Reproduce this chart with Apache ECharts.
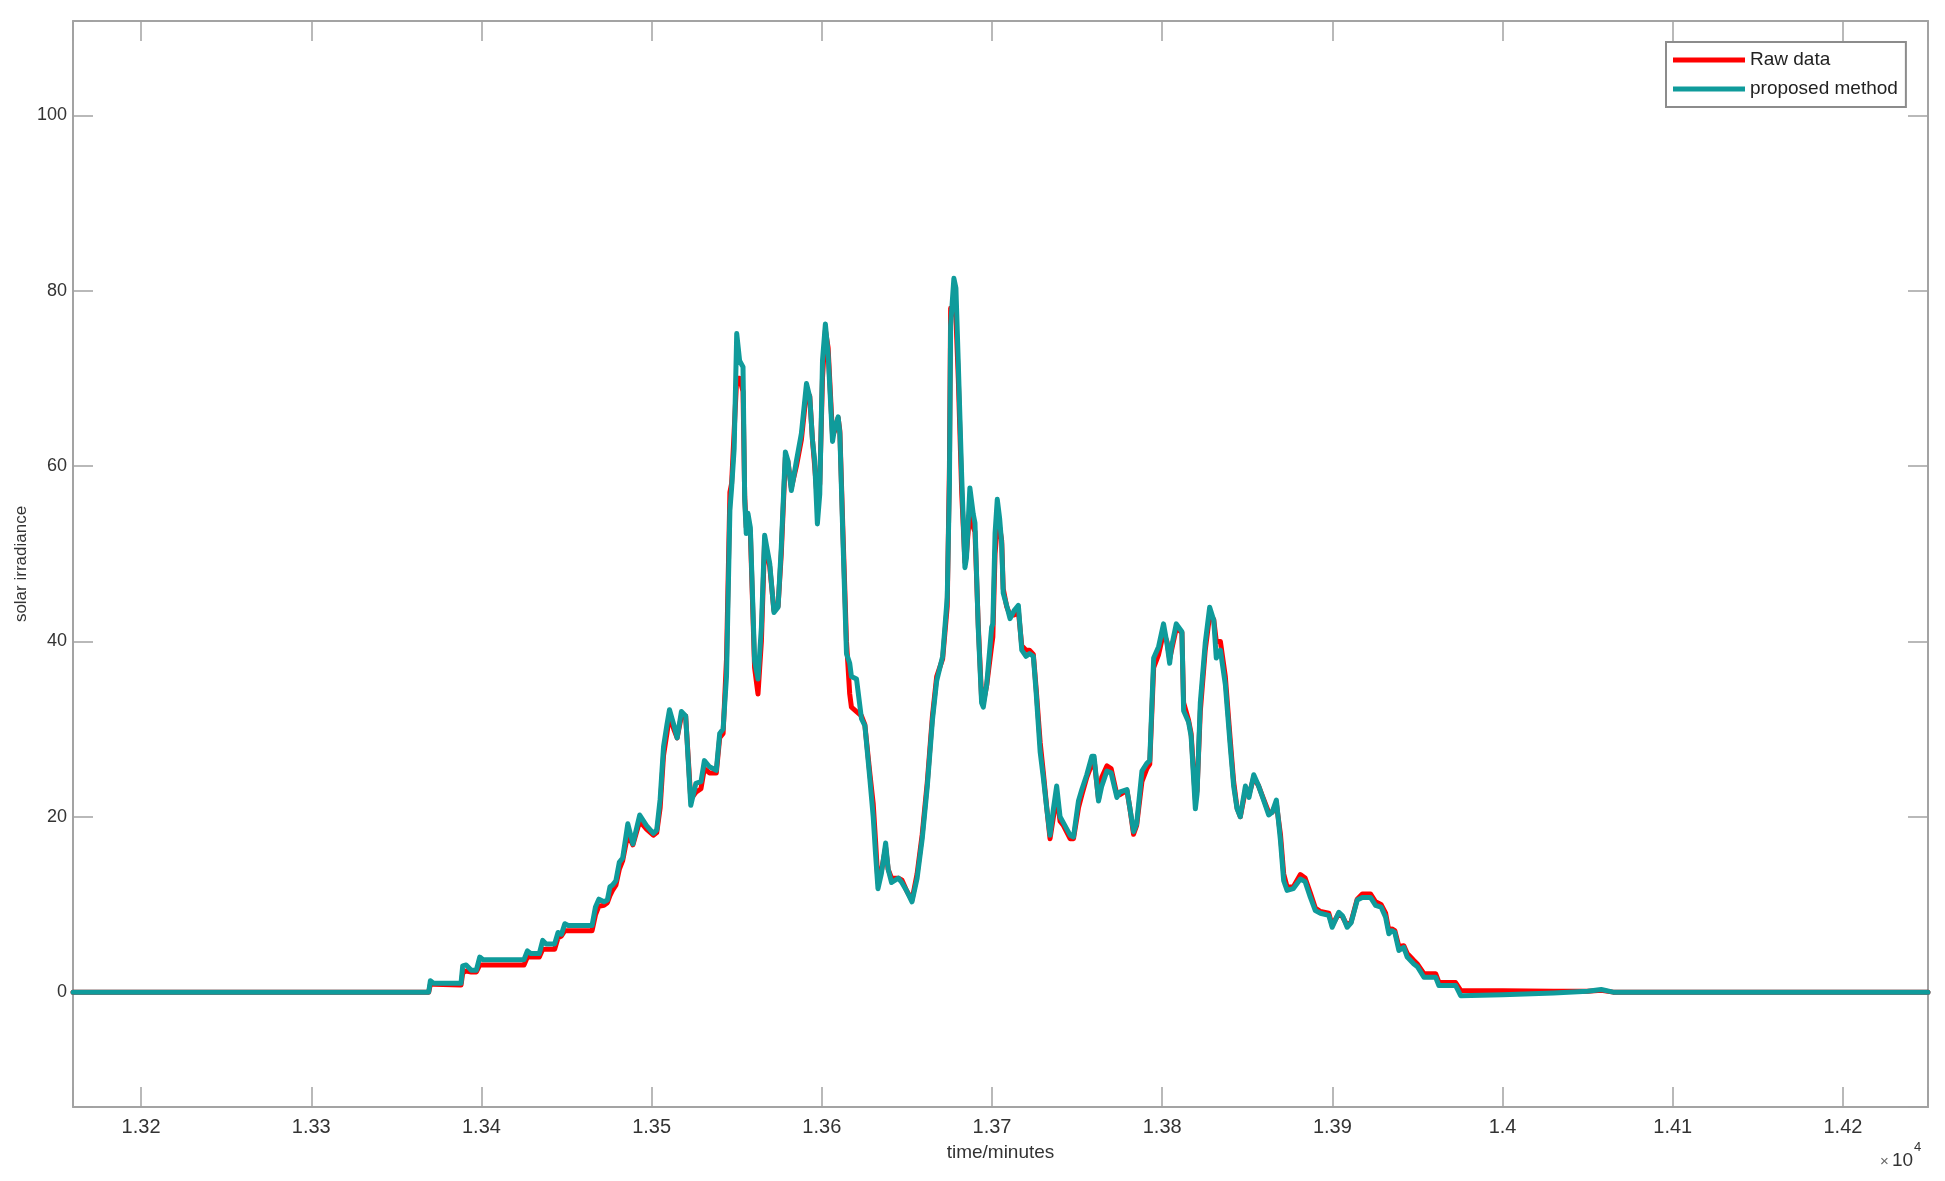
<!DOCTYPE html>
<html>
<head>
<meta charset="utf-8">
<title>solar irradiance</title>
<script src="https://cdn.jsdelivr.net/npm/echarts@6/dist/echarts.min.js"></script>
<style>
    html, body { margin: 0; padding: 0; background: #fff; }
    #chart { width: 1945px; height: 1181px; }
</style>
</head>
<body>
<div id="chart"></div>
<script>
    // time in minutes (axis shows it as x10^4)
    const timeMin = [
        13160, 13369, 13370, 13372, 13388, 13389, 13391, 13394, 13397, 13399,
        13401, 13425, 13427, 13429, 13434, 13436, 13438, 13443, 13445, 13447,
        13449, 13451, 13465, 13467, 13469, 13472, 13474, 13475.5, 13477, 13479,
        13481, 13483, 13486, 13489, 13493, 13497, 13501, 13503, 13505, 13507,
        13509, 13510.5, 13513, 13515, 13517.5, 13520, 13523, 13526, 13529, 13531,
        13534, 13538, 13540, 13542, 13544, 13546, 13547, 13548.5, 13550, 13551.7,
        13553.7, 13554.7, 13555.6, 13556.6, 13558, 13560.5, 13562.5, 13564.5, 13566.4, 13569.4,
        13571.9, 13574.3, 13576.2, 13578.6, 13580.1, 13582.1, 13585.1, 13588, 13591, 13592.9,
        13594.5, 13595.8, 13597.4, 13598.8, 13600.4, 13602.1, 13603.7, 13606.3, 13607.6, 13609.6,
        13610.6, 13612.5, 13614.5, 13616.4, 13617.4, 13620.4, 13623.3, 13625.3, 13628.2, 13630.2,
        13631.5, 13633, 13635, 13637.5, 13639, 13641, 13645, 13647, 13650, 13653,
        13656, 13659, 13662, 13665, 13667.5, 13671, 13673.7, 13675, 13675.7, 13677.6,
        13678.8, 13680.2, 13682.2, 13684.1, 13685, 13687, 13689, 13690, 13691.9, 13693.9,
        13694.9, 13696.9, 13699.8, 13700.5, 13701.8, 13703.1, 13704.5, 13705.7, 13706.6, 13708.6,
        13710.6, 13713, 13715.5, 13717.5, 13720, 13722, 13724.3, 13726, 13728.3, 13730.2,
        13732.2, 13734.1, 13736.1, 13738, 13740, 13742, 13745.9, 13747.9, 13750.8, 13752.8,
        13755.7, 13758.7, 13760, 13762.6, 13764.5, 13767.5, 13770, 13773.4, 13775, 13779.3,
        13781, 13783.2, 13785, 13788.1, 13791, 13792.7, 13795, 13797.9, 13800.8, 13802.8,
        13804.4, 13805.5, 13808.3, 13811.6, 13812.6, 13815.5, 13817, 13819.5, 13820.5, 13822.4,
        13825.3, 13827.9, 13830.3, 13831.8, 13834.2, 13837.1, 13840.1, 13842, 13844, 13845.9,
        13848.9, 13851, 13853.8, 13856.7, 13859.6, 13862.6, 13864.6, 13867.1, 13869.5, 13871.4,
        13873.4, 13877, 13881.2, 13884, 13887.1, 13890, 13893, 13897.9, 13899.9, 13903.8,
        13906, 13908.7, 13911, 13914.6, 13917.6, 13922.4, 13925.4, 13928.6, 13931.3, 13933.2,
        13935, 13936.7, 13939.1, 13942, 13944, 13947.9, 13950, 13953.8, 13960.7, 13962.6,
        13972.4, 13975.4, 14000, 14030, 14050, 14058, 14065, 14250
    ];

    const rawData = [
        0, 0, 0.9, 0.9, 0.8, 2.2, 2.4, 2.3, 2.3, 3.1,
        3.1, 3.1, 4.0, 4.0, 4.0, 4.9, 4.9, 4.9, 6.2, 6.4,
        7.0, 7.0, 7.0, 8.8, 9.8, 9.9, 10.2, 11.0, 11.6, 12.2,
        14.0, 15.0, 18.0, 16.8, 19.5, 18.6, 17.9, 18.2, 21.0, 27.0,
        29.5, 31.5, 30.0, 29.0, 31.5, 31.5, 22.0, 22.8, 23.2, 25.5,
        25.0, 25.0, 29.0, 29.5, 38.0, 57.0, 58.0, 64.0, 70.0, 70.0,
        68.5, 56.5, 53.0, 54.0, 52.5, 37.0, 34.0, 40.0, 51.5, 48.5,
        43.5, 44.0, 50.0, 61.0, 60.5, 57.5, 60.0, 63.0, 68.5, 68.0,
        63.0, 60.0, 56.0, 58.0, 70.0, 75.5, 73.5, 63.5, 64.0, 65.5,
        64.0, 52.0, 40.0, 34.0, 32.5, 32.0, 31.5, 30.5, 25.0, 21.5,
        17.5, 12.5, 13.8, 16.5, 14.0, 13.0, 13.0, 12.8, 11.5, 10.5,
        13.5, 18.0, 24.0, 31.5, 36.0, 38.0, 44.0, 60.0, 78.0, 78.0,
        77.0, 70.0, 57.0, 49.0, 50.0, 55.0, 53.0, 52.5, 42.0, 33.5,
        33.0, 35.0, 39.5, 40.5, 50.0, 53.0, 53.0, 51.5, 46.0, 44.0,
        43.0, 43.0, 43.5, 39.5, 39.0, 39.0, 38.5, 34.5, 28.5, 25.0,
        21.0, 17.5, 20.0, 22.5, 19.5, 19.0, 17.5, 17.5, 21.0, 22.5,
        24.5, 26.0, 26.5, 22.0, 24.5, 25.8, 25.5, 22.5, 22.5, 23.0,
        21.0, 18.0, 19.0, 24.0, 25.5, 26.0, 37.0, 38.5, 41.0, 40.0,
        38.0, 39.0, 41.5, 41.0, 33.0, 31.0, 29.5, 22.0, 23.0, 32.0,
        39.0, 43.0, 42.5, 40.0, 40.0, 36.0, 28.5, 24.0, 21.0, 20.0,
        23.0, 22.5, 24.5, 23.5, 22.0, 20.5, 20.5, 21.5, 18.0, 13.5,
        12.0, 12.0, 13.4, 13.0, 11.3, 9.6, 9.2, 9.0, 7.6, 9.0,
        8.6, 7.6, 8.0, 10.6, 11.2, 11.2, 10.3, 10.0, 9.0, 7.0,
        7.2, 7.0, 5.2, 5.3, 4.4, 3.6, 3.2, 2.1, 2.1, 1.1,
        1.1, 0.2, 0.15, 0.1, 0.1, 0.2, 0, 0
    ];

    const proposed = [
        0, 0, 1.3, 1.0, 1.0, 3.0, 3.1, 2.5, 2.5, 4.0,
        3.7, 3.7, 4.7, 4.4, 4.4, 5.9, 5.5, 5.5, 6.8, 6.6,
        7.8, 7.6, 7.6, 9.7, 10.6, 10.3, 10.5, 12.0, 12.2, 12.7,
        14.8, 15.3, 19.2, 16.9, 20.2, 19.0, 18.1, 18.5, 22.0, 28.0,
        30.5, 32.2, 30.5, 29.0, 32.0, 31.5, 21.3, 23.8, 24.0, 26.4,
        25.7, 25.3, 29.5, 30.0, 36.0, 55.0, 57.5, 62.0, 75.1, 72.0,
        71.3, 56.1, 52.3, 54.6, 53.0, 37.8, 35.7, 41.6, 52.1, 48.9,
        43.3, 43.9, 50.8, 61.6, 60.6, 57.2, 60.6, 63.7, 69.4, 67.9,
        63.0, 60.6, 53.4, 56.8, 72.0, 76.2, 72.8, 62.8, 64.4, 65.6,
        63.7, 51.1, 38.6, 37.5, 36.0, 35.7, 31.2, 30.4, 24.4, 20.0,
        16.0, 11.8, 13.5, 17.0, 14.0, 12.5, 13.0, 12.5, 11.5, 10.3,
        13.0, 17.5, 23.5, 31.0, 35.5, 38.3, 45.0, 58.0, 76.0, 81.4,
        80.3, 71.7, 58.8, 48.4, 49.5, 57.5, 54.5, 53.5, 41.6, 33.0,
        32.5, 35.1, 41.6, 42.0, 52.3, 56.2, 54.0, 51.1, 45.5, 44.1,
        42.6, 43.5, 44.1, 39.0, 38.3, 38.6, 38.3, 34.0, 27.4, 24.4,
        20.9, 17.9, 20.9, 23.5, 20.0, 19.3, 17.9, 17.7, 21.8, 23.1,
        24.8, 26.9, 26.9, 21.8, 23.5, 25.2, 25.0, 22.2, 22.8, 23.1,
        21.0, 18.3, 19.2, 25.2, 26.1, 26.4, 38.1, 39.4, 42.0, 39.8,
        37.5, 39.4, 42.0, 41.1, 32.1, 30.8, 29.2, 20.9, 22.6, 33.0,
        39.8, 43.9, 42.4, 38.1, 39.0, 35.1, 27.8, 23.5, 20.9, 20.0,
        23.5, 22.2, 24.8, 23.5, 21.9, 20.2, 20.5, 21.9, 17.3, 12.7,
        11.6, 11.8, 12.9, 12.6, 10.8, 9.3, 9.0, 8.75, 7.4, 9.1,
        8.7, 7.4, 7.9, 10.5, 10.8, 10.8, 9.9, 9.7, 8.55, 6.65,
        7.0, 6.8, 4.75, 5.1, 4.0, 3.2, 2.9, 1.7, 1.7, 0.76,
        0.76, -0.4, -0.3, -0.1, 0.1, 0.3, 0, 0
    ];

    const seriesNames = ['Raw data', 'proposed method'];
    const yTicks = [0, 20, 40, 60, 80, 100];

    const boxColor = '#a3a3a3';
    const fontFamily = '"Liberation Sans", Arial, sans-serif';

    let myChart = echarts.init(document.getElementById('chart'), null, { renderer: 'canvas' });

    // box + inward ticks on all four sides, like a matlab figure
    const frameAxis = {
        axisLine: { show: true, onZero: false, lineStyle: { color: boxColor, width: 2 } },
        axisTick: { show: true, inside: true, length: 20, lineStyle: { color: boxColor, width: 1.5 } },
        splitLine: { show: false }
    };

    myChart.setOption({
        animation: false,
        backgroundColor: '#fff',
        grid: {
            left: 73,
            right: 17,
            top: 21,
            bottom: 74,
            containLabel: false
        },
        legend: {
            data: seriesNames,
            orient: 'vertical',
            left: 1666,
            top: 42,
            padding: [8, 8, 8, 7],
            itemGap: 9,
            itemWidth: 72,
            itemHeight: 5,
            icon: 'rect',
            backgroundColor: '#fff',
            borderColor: '#8c8c8c',
            borderWidth: 2,
            textStyle: {
                color: '#222',
                fontSize: 19,
                lineHeight: 20,
                fontFamily: fontFamily
            }
        },
        xAxis: [
            Object.assign({
                type: 'value',
                position: 'bottom',
                min: 13160,
                max: 14250,
                splitNumber: 10,
                minInterval: 100,
                maxInterval: 100,
                name: 'time/minutes',
                nameLocation: 'middle',
                nameGap: 36,
                nameTextStyle: { color: '#333', fontSize: 19, fontFamily: fontFamily },
                axisLabel: {
                    color: '#333',
                    fontSize: 20,
                    fontFamily: fontFamily,
                    margin: 10,
                    formatter: function (v) {
                        if (Math.abs(v % 100) > 1e-6) return '';
                        return String(+(v / 10000).toFixed(2));
                    }
                }
            }, frameAxis),
            Object.assign({
                type: 'value',
                position: 'top',
                min: 13160,
                max: 14250,
                splitNumber: 10,
                minInterval: 100,
                maxInterval: 100,
                axisLabel: { show: false }
            }, frameAxis)
        ],
        yAxis: [
            Object.assign({
                type: 'value',
                position: 'left',
                min: -13.1,
                max: 110.75,
                splitNumber: 6,
                minInterval: 20,
                maxInterval: 20,
                name: 'solar irradiance',
                nameLocation: 'middle',
                nameGap: 43,
                nameMoveOverlap: false,
                nameTextStyle: { color: '#333', fontSize: 17, fontFamily: fontFamily },
                axisLabel: {
                    color: '#333',
                    fontSize: 18,
                    fontFamily: fontFamily,
                    margin: 6,
                    formatter: function (v) {
                        return yTicks.indexOf(v) >= 0 ? String(v) : '';
                    }
                }
            }, frameAxis),
            Object.assign({
                type: 'value',
                position: 'right',
                min: -13.1,
                max: 110.75,
                splitNumber: 6,
                minInterval: 20,
                maxInterval: 20,
                axisLabel: { show: false }
            }, frameAxis)
        ],
        // x10^4 multiplier under the right end of the x axis
        graphic: [
            {
                type: 'text',
                left: 1880,
                top: 1154,
                style: { text: '×', fill: '#666', font: '15px ' + fontFamily }
            },
            {
                type: 'text',
                left: 1892,
                top: 1151,
                style: { text: '10', fill: '#333', font: '19px ' + fontFamily }
            },
            {
                type: 'text',
                left: 1914,
                top: 1141,
                style: { text: '4', fill: '#333', font: '13px ' + fontFamily }
            }
        ],
        series: [
            {
                name: seriesNames[0],
                type: 'line',
                xAxisIndex: 0,
                yAxisIndex: 0,
                showSymbol: false,
                color: '#ff0000',
                lineStyle: { color: '#ff0000', width: 5, join: 'round', cap: 'round' },
                data: timeMin.map(function (t, i) { return [t, rawData[i]]; })
            },
            {
                name: seriesNames[1],
                type: 'line',
                xAxisIndex: 0,
                yAxisIndex: 0,
                showSymbol: false,
                color: '#0f9b9b',
                lineStyle: { color: '#0f9b9b', width: 5, join: 'round', cap: 'round' },
                data: timeMin.map(function (t, i) { return [t, proposed[i]]; })
            }
        ]
    });
</script>
</body>
</html>
